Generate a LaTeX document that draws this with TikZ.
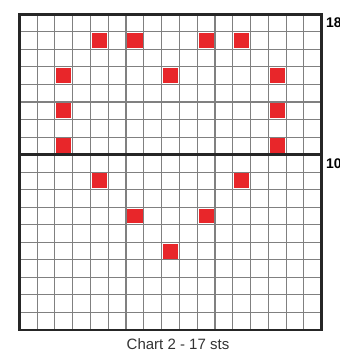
\documentclass[tikz,border=0pt]{standalone}
\usepackage{fontspec}
\setmainfont{Liberation Sans}
\definecolor{chartred}{HTML}{E8262A}
\begin{document}
\begin{tikzpicture}[x=1pt,y=-1pt,
  gridline/.style={draw=black!50, line width=1.1pt},
  frameline/.style={draw=black!85, line width=2.6pt},
  stitch/.style={fill=chartred, draw=none},
  rowlabel/.style={font=\bfseries\fontsize{14}{14}\selectfont, anchor=west, inner sep=0pt},
  captionstyle/.style={font=\fontsize{15}{16}\selectfont, text=black!80, inner sep=0pt, anchor=base}]
\path[clip] (0,0) rectangle (340,354);
\def\gx{19.3}\def\gy{14.3}\def\cw{17.79}\def\ch{17.54}
\foreach \i in {1,...,16}
  \draw[gridline] ({\gx+\i*\cw},\gy) -- ({\gx+\i*\cw},{\gy+18*\ch});
\foreach \j in {1,...,17}
  \draw[gridline] (\gx,{\gy+\j*\ch}) -- ({\gx+17*\cw},{\gy+\j*\ch});
\foreach \c/\r in {5/2,7/2,11/2,13/2,3/4,9/4,15/4,3/6,15/6,3/8,15/8,5/10,13/10,7/12,11/12,9/14}
  \fill[stitch] ({\gx+(\c-1)*\cw+1.3},{\gy+(\r-1)*\ch+1.3}) rectangle ++({\cw-2.6},{\ch-2.6});
\draw[frameline] (\gx,\gy) rectangle ({\gx+17*\cw},{\gy+18*\ch});
\draw[frameline] (\gx,{\gy+8*\ch}) -- ({\gx+17*\cw},{\gy+8*\ch});
\node[rowlabel] (l18) at (326,{\gy+0.5*\ch}) {18};
\node[rowlabel] (l10) at (326,{\gy+8.5*\ch}) {10};
\node[captionstyle] (cap) at (178,349) {Chart 2 - 17 sts};
\end{tikzpicture}
\end{document}
